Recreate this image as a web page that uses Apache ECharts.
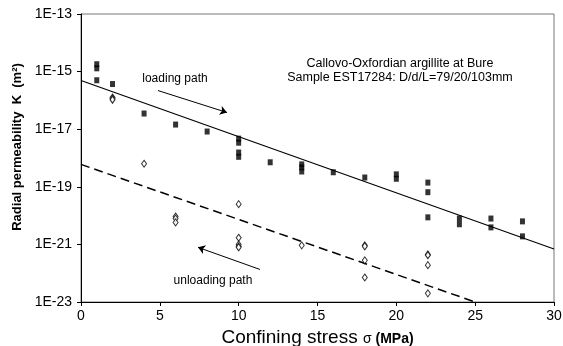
<!DOCTYPE html>
<html><head><meta charset="utf-8">
<script src="https://cdn.jsdelivr.net/npm/echarts@6/dist/echarts.min.js"></script>
<style>html,body{margin:0;padding:0;background:#fff}#c{width:563px;height:346px}</style>
</head><body><div id="c" style="width:563px;height:346px"></div>
<script>
// Loading path (filled squares), K in m^2
var loadX = [1,1,1,2,4,6,8,10,10,10,10,12,14,14,14,16,18,20,20,22,22,22,24,24,26,26,28,28];
var loadK = [1.8e-15,1.3e-15,5.0e-16,3.7e-16,3.5e-17,1.45e-17,8.3e-18,4.7e-18,3.4e-18,1.55e-18,1.1e-18,7.1e-19,6.0e-19,4.7e-19,3.4e-19,3.2e-19,2.1e-19,2.7e-19,1.9e-19,1.4e-19,6.5e-20,8.7e-21,7.9e-21,5.0e-21,7.9e-21,3.9e-21,6.3e-21,1.9e-21];
// Unloading path (open diamonds)
var unloadX = [2,2,2,4,6,6,6,10,10,10,10,10,14,18,18,18,18,22,22,22,22];
var unloadK = [1.26e-16,1.15e-16,1.05e-16,6.3e-19,9.3e-21,7.9e-21,5.8e-21,2.5e-20,1.7e-21,1.0e-21,8.5e-22,7.9e-22,9.3e-22,9.3e-22,8.5e-22,2.8e-22,7.1e-23,4.5e-22,4.2e-22,1.9e-22,2.0e-23];
// Fitted trend lines
var loadFitX = [0,30];
var loadFitK = [4.9e-16,6.9e-22];
var unloadFitX = [0,25];
var unloadFitK = [6.0e-19,1e-23];
// Annotation arrows (data coords)
var loadArrowX = [4.88,9.26];
var loadArrowK = [2.2e-16,3.8e-17];
var unloadArrowX = [11.35,7.42];
var unloadArrowK = [1.35e-22,7.9e-22];
var loadLabelPos = [5.96,5.8e-16];
var unloadLabelPos = [8.37,5.4e-23];
var infoLines = ['Callovo-Oxfordian argillite at Bure','Sample EST17284: D/d/L=79/20/103mm'];
var infoPos = [[20.23,1.9e-15],[20.23,6.2e-16]];
var xTicks = [0,5,10,15,20,25,30];
var yMinK = 1e-23, yMaxK = 1e-13;

// ECharts rounds tiny numbers to 20 decimals, so the log axis is fed K·1e20 and labelled back in m^2
var SCALE_EXP = 20, SCALE = 1e20;
function sc(k){return k*SCALE;}
function zip(a,b){return a.map(function(v,i){return [v,sc(b[i])];});}
var FONT = '"Liberation Sans", Arial, sans-serif';
var chart = echarts.init(document.getElementById('c'), null, {renderer:'canvas',width:563,height:346});
var option = {
  animation:false,
  backgroundColor:'#fff',
  grid:{left:81,right:9,top:14,bottom:44,containLabel:false,outerBoundsMode:'none',show:true,borderColor:'#777',borderWidth:1,backgroundColor:'transparent'},
  xAxis:{type:'value',min:xTicks[0],max:xTicks[xTicks.length-1],interval:5,
    name:'{a|Confining stress }{s|σ }{b|(MPa)}',nameLocation:'middle',nameGap:26,
    nameTextStyle:{rich:{a:{fontSize:19,fontFamily:FONT,color:'#000',verticalAlign:'bottom'},s:{fontSize:14,fontFamily:FONT,color:'#000',verticalAlign:'bottom',padding:[0,0,1,0]},b:{fontSize:14,fontWeight:'bold',fontFamily:FONT,color:'#000',verticalAlign:'bottom',padding:[0,0,1,0]}}},
    axisLine:{lineStyle:{color:'#000',width:1}},axisTick:{show:true,inside:false,length:4,lineStyle:{color:'#000'}},
    axisLabel:{color:'#000',fontSize:14,fontFamily:FONT,margin:7},splitLine:{show:false}},
  yAxis:{type:'log',logBase:10,min:sc(yMinK),max:sc(yMaxK),interval:2,
    name:'Radial permeability  K  (m²)',nameLocation:'middle',nameGap:55,
    nameTextStyle:{fontSize:13,fontWeight:'bold',fontFamily:FONT,color:'#000',padding:[0,0,0,22]},
    axisLine:{show:true,lineStyle:{color:'#000',width:1}},axisTick:{show:true,inside:false,length:4,lineStyle:{color:'#000'}},
    axisLabel:{color:'#000',fontSize:14,fontFamily:FONT,margin:9,formatter:function(v){return '1E'+(Math.round(Math.log10(v))-SCALE_EXP);}},
    splitLine:{show:false},minorTick:{show:false}},
  series:[
    {type:'line',data:zip(loadFitX,loadFitK),symbol:'none',lineStyle:{color:'#000',width:1.2},z:2,silent:true},
    {type:'line',data:zip(unloadFitX,unloadFitK),symbol:'none',lineStyle:{color:'#000',width:1.5,type:[9,5]},z:2,silent:true},
    {type:'scatter',data:zip(loadX,loadK),symbol:'rect',symbolSize:[5,6],itemStyle:{color:'#000'},z:3},
    {type:'scatter',data:zip(unloadX,unloadK),symbol:'diamond',symbolSize:[5,7],itemStyle:{color:'#fff',borderColor:'#000',borderWidth:1},z:4},
    {type:'lines',coordinateSystem:'cartesian2d',silent:true,symbol:['none','arrow'],symbolSize:7,
      lineStyle:{color:'#000',width:1,opacity:1},data:[{coords:zip(loadArrowX,loadArrowK)},{coords:zip(unloadArrowX,unloadArrowK)}],z:5}
  ]
};
chart.setOption(option);
function px(p){return chart.convertToPixel({gridIndex:0},[p[0],sc(p[1])]);}
var g = [];
var lp = px(loadLabelPos), up = px(unloadLabelPos);
g.push({type:'text',x:lp[0],y:lp[1],style:{text:'loading path',fontSize:12,fontFamily:FONT,fill:'#000',align:'center',verticalAlign:'middle'}});
g.push({type:'text',x:up[0],y:up[1],style:{text:'unloading path',fontSize:12,fontFamily:FONT,fill:'#000',align:'center',verticalAlign:'middle'}});
infoLines.forEach(function(t,i){var p=px(infoPos[i]);g.push({type:'text',x:p[0],y:p[1],style:{text:t,fontSize:12.5,fontFamily:FONT,fill:'#000',align:'center',verticalAlign:'middle'}});});
chart.setOption({graphic:g});
</script></body></html>
